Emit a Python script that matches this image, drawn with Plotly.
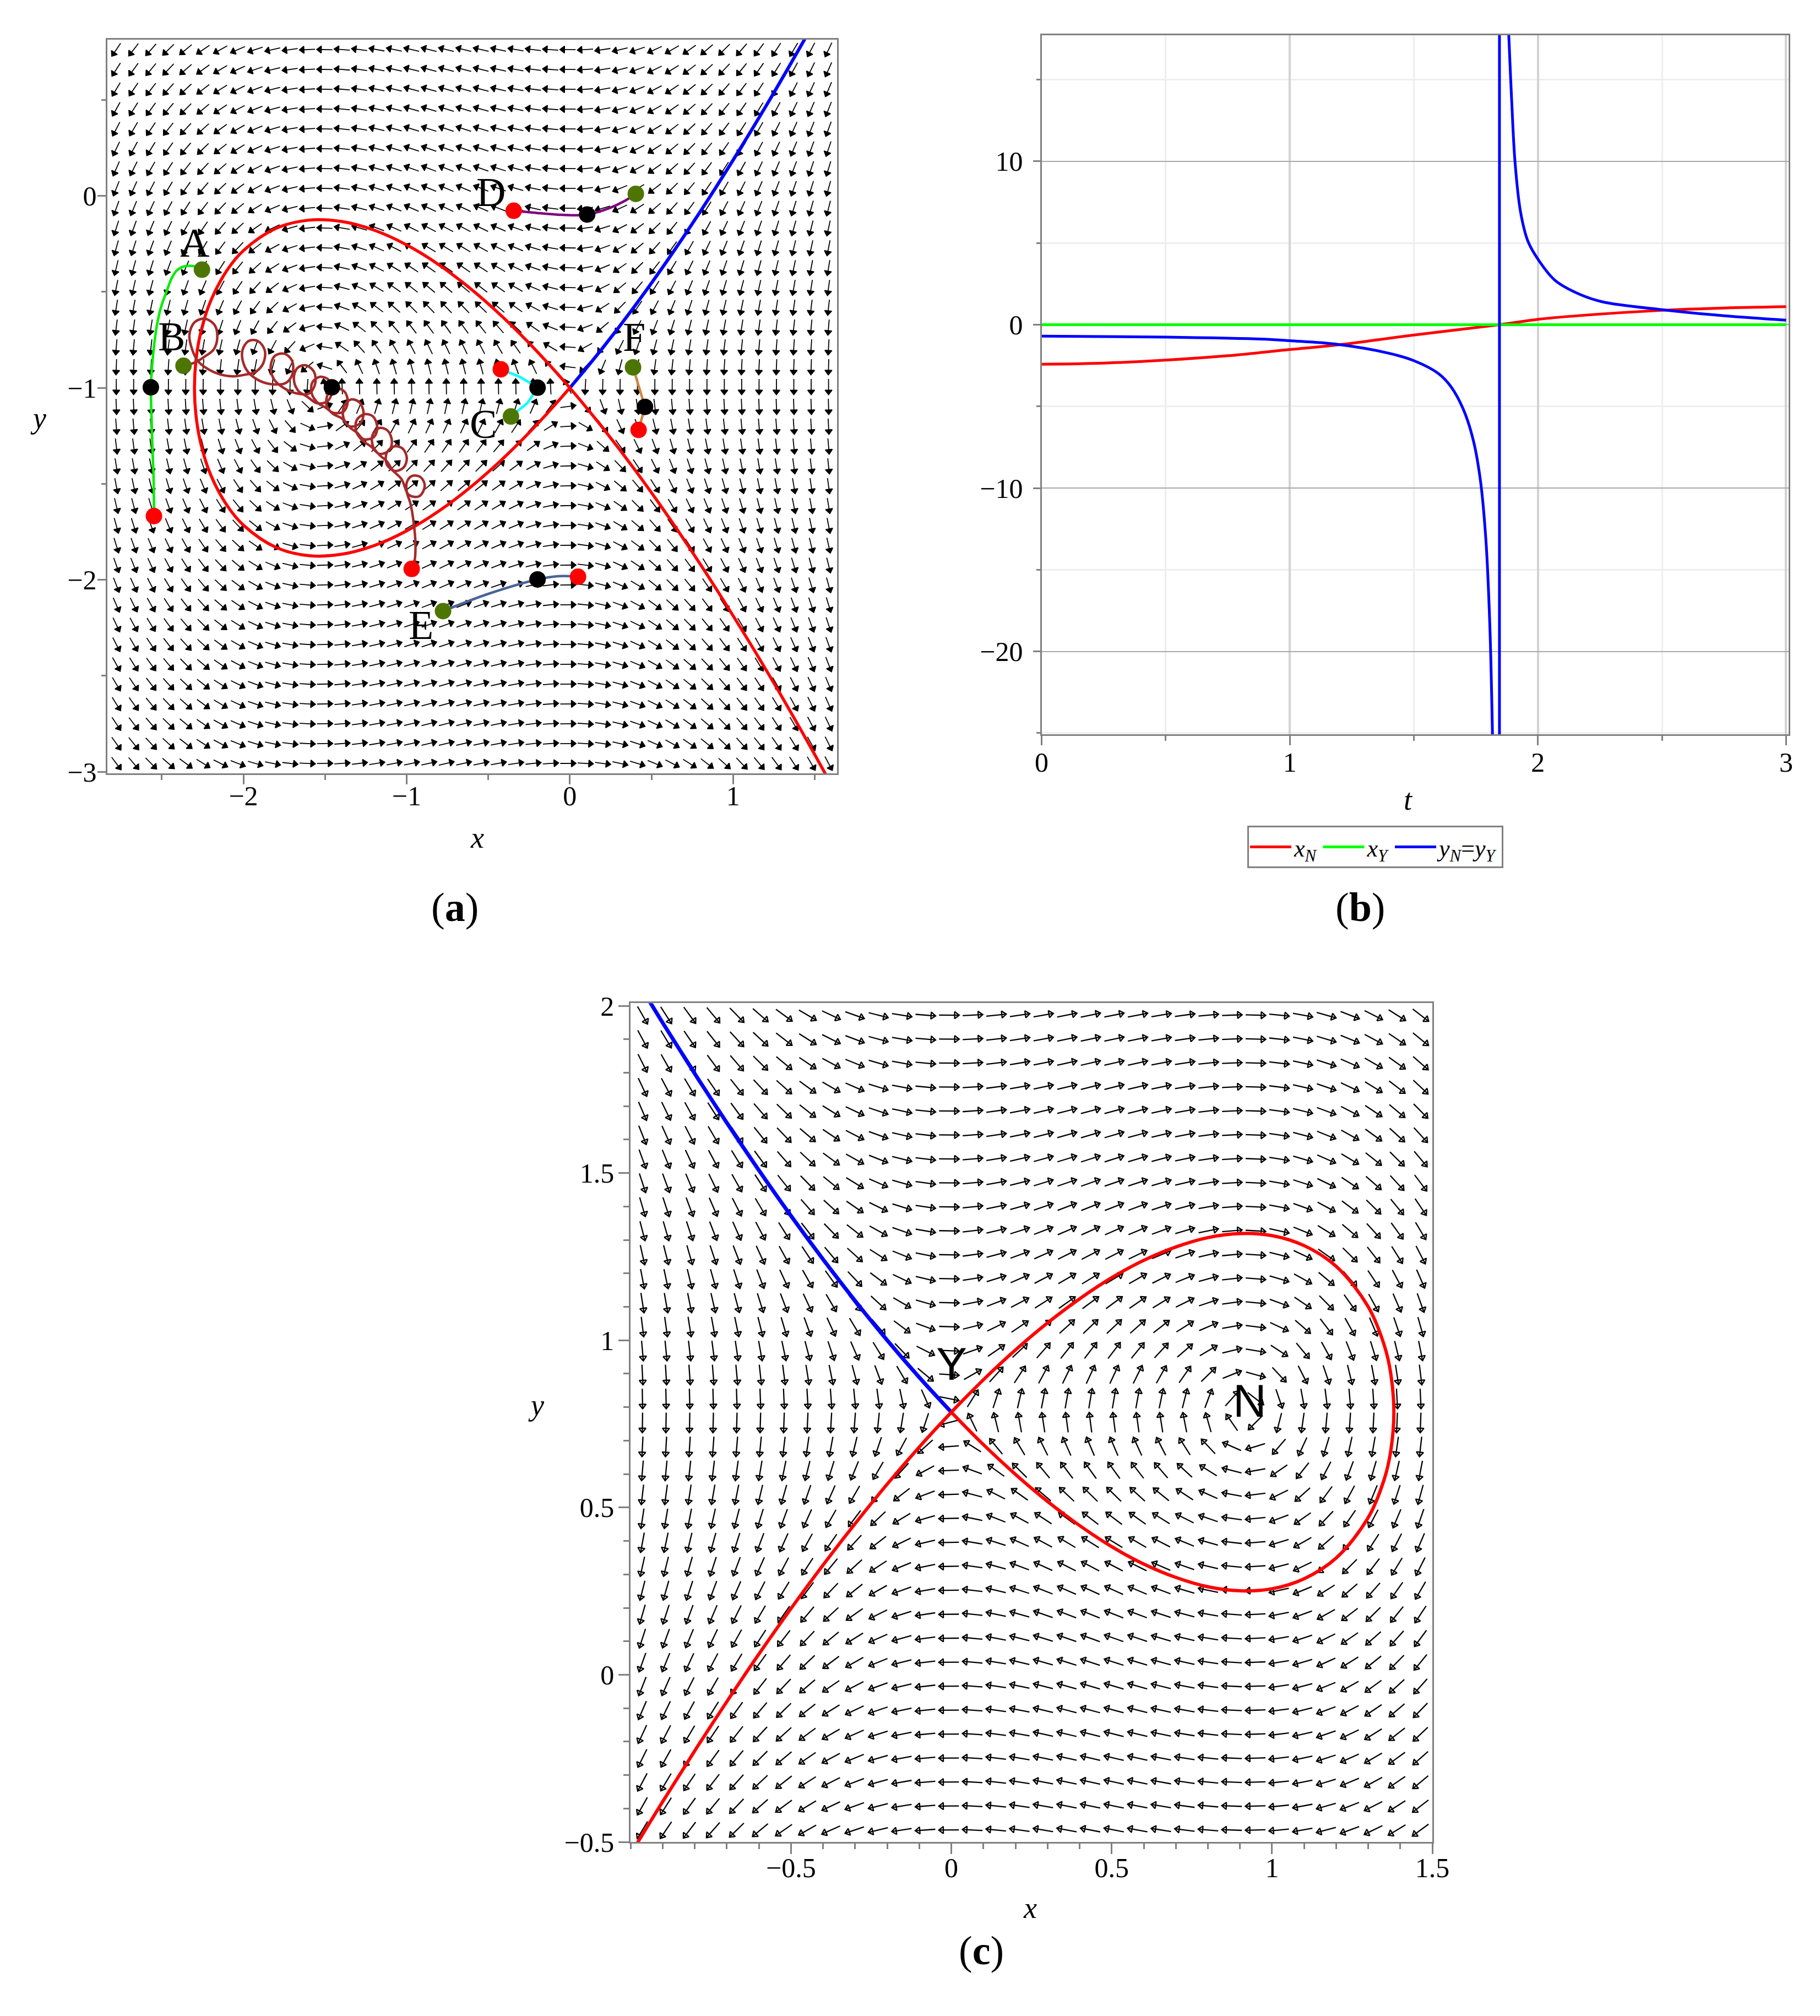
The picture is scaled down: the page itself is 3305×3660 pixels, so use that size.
import numpy as np
import plotly.graph_objects as go

W, H = 3305, 3660
SERIF = "Liberation Serif"
SANS = "Liberation Sans"
GREY = "#808080"
OLIVE = "#4d7600"

# ---------------- panel (a): phase plane ----------------
a_xrange = [-2.832, 1.638]
a_yrange = [-3.008, 0.814]
a_dom_x = [0.0567, 0.4576]
a_dom_y = [0.6186, 0.9825]

# direction field  x' = -(y - a_saddle_y),  y' = -a_k * x * (x - a_center_x)
a_saddle_y = -1.0
a_center_x = -1.533
a_k = 0.64
a_grid = (42, 37)

a_red_x = [1.6, 1.4, 1.2, 1.0, 0.8, 0.6, 0.4, 0.2, 0.0,
           -0.2, -0.4, -0.6, -0.8, -1.0, -1.2, -1.4, -1.6, -1.8, -2.0, -2.1, -2.2, -2.26, -2.29, -2.30,
           -2.29, -2.26, -2.2, -2.1, -2.0, -1.8, -1.6, -1.4, -1.2, -1.0, -0.8, -0.6, -0.4, -0.2, 0.0]
a_red_y = [-3.064, -2.759, -2.466, -2.187, -1.920, -1.667, -1.429, -1.207, -1.0,
           -0.811, -0.640, -0.489, -0.360, -0.255, -0.178, -0.133, -0.126, -0.169, -0.285, -0.387, -0.546,
           -0.706, -0.852, -1.0,
           -1.148, -1.294, -1.454, -1.613, -1.715, -1.831, -1.874, -1.867, -1.822, -1.745, -1.640, -1.511,
           -1.360, -1.189, -1.0]
a_blue_x = [0.0, 0.2, 0.4, 0.6, 0.8, 1.0, 1.2, 1.4, 1.5]
a_blue_y = [-1.0, -0.793, -0.571, -0.333, -0.080, 0.187, 0.466, 0.759, 0.910]

traj_A_x = [-2.254, -2.31, -2.367, -2.41, -2.44, -2.473, -2.505, -2.531, -2.550, -2.563, -2.567,
            -2.563, -2.557, -2.550, -2.548]
traj_A_y = [-0.384, -0.365, -0.368, -0.39, -0.43, -0.503, -0.580, -0.679, -0.800, -0.931, -0.997,
            -1.151, -1.316, -1.481, -1.668]
traj_B_x = [-2.367, -2.318, -2.279, -2.234, -2.182, -2.160, -2.176, -2.234, -2.298, -2.331, -2.314, -2.279,
            -2.234, -2.156, -2.066, -1.988, -1.923, -1.878, -1.869, -1.911, -1.969, -2.006, -1.998, -1.962,
            -1.898, -1.827, -1.742, -1.701, -1.701, -1.749, -1.807, -1.833, -1.814, -1.768,
            -1.691, -1.600, -1.561, -1.568, -1.620, -1.671, -1.691, -1.665, -1.607,
            -1.549, -1.484, -1.458, -1.477, -1.529, -1.577, -1.581, -1.542, -1.497,
            -1.452, -1.387, -1.361, -1.381, -1.432, -1.481, -1.490, -1.452, -1.400,
            -1.348, -1.284, -1.264, -1.290, -1.342, -1.384, -1.387, -1.348, -1.303,
            -1.264, -1.200, -1.180, -1.206, -1.258, -1.306, -1.309, -1.271, -1.219,
            -1.167, -1.109, -1.090, -1.116, -1.167, -1.209, -1.206, -1.167, -1.122,
            -1.077, -1.019, -0.999, -1.025, -1.077, -1.122, -1.122, -1.077, -1.031,
            -0.986, -0.922, -0.889, -0.915, -0.967, -0.999, -0.999, -0.977, -0.957, -0.946, -0.951, -0.969]
traj_B_y = [-0.885, -0.874, -0.860, -0.835, -0.800, -0.739, -0.673, -0.640, -0.657, -0.723, -0.800, -0.860,
            -0.893, -0.926, -0.940, -0.931, -0.915, -0.871, -0.805, -0.756, -0.756, -0.805, -0.876, -0.926,
            -0.964, -0.981, -0.975, -0.931, -0.860, -0.822, -0.833, -0.887, -0.953, -0.992,
            -1.025, -1.030, -0.981, -0.915, -0.882, -0.898, -0.953, -1.014, -1.047,
            -1.080, -1.069, -1.019, -0.959, -0.942, -0.970, -1.030, -1.080, -1.102,
            -1.129, -1.124, -1.074, -1.019, -1.003, -1.030, -1.091, -1.135, -1.157,
            -1.201, -1.184, -1.129, -1.074, -1.061, -1.096, -1.157, -1.206, -1.234,
            -1.267, -1.256, -1.206, -1.149, -1.137, -1.168, -1.228, -1.274, -1.305,
            -1.344, -1.327, -1.278, -1.223, -1.209, -1.245, -1.305, -1.349, -1.382,
            -1.432, -1.415, -1.366, -1.316, -1.305, -1.338, -1.399, -1.437, -1.476,
            -1.558, -1.564, -1.509, -1.465, -1.459, -1.492, -1.542, -1.602, -1.701, -1.811, -1.899, -1.943]
traj_C_x = [-0.361, -0.26, -0.198, -0.305, -0.423]
traj_C_y = [-1.149, -1.079, -0.999, -0.943, -0.903]
traj_D_x = [0.404, 0.336, 0.246, 0.106, -0.01, -0.159, -0.344]
traj_D_y = [0.011, -0.026, -0.062, -0.097, -0.100, -0.092, -0.077]
traj_E_x = [-0.777, -0.496, -0.198, -0.069, 0.050]
traj_E_y = [-2.163, -2.072, -1.998, -1.981, -1.984]
traj_F_x = [0.387, 0.426, 0.460, 0.421]
traj_F_y = [-0.893, -1.000, -1.099, -1.219]

olive_x = [-2.254, -2.367, -0.361, 0.404, -0.777, 0.387]
olive_y = [-0.384, -0.885, -1.149, 0.011, -2.163, -0.893]
black_x = [-2.567, -1.458, -0.198, 0.106, -0.198, 0.460]
black_y = [-0.997, -0.997, -0.999, -0.097, -1.998, -1.099]
red_x = [-2.548, -0.969, -0.423, -0.344, 0.050, 0.421]
red_y = [-1.668, -1.943, -0.903, -0.077, -1.984, -1.219]

label_text = ["A", "B", "C", "D", "E", "F"]
label_x = [-2.30, -2.44, -0.53, -0.485, -0.912, 0.392]
label_y = [-0.245, -0.733, -1.19, 0.019, -2.235, -0.736]

# ---------------- panel (b): time series ----------------
b_xrange = [0, 3.01]
b_yrange = [-25.07, 17.72]
b_dom_x = [0.5699, 0.9803]
b_dom_y = [0.6380, 0.9847]

b_t_red = [0, 0.25, 0.5, 0.75, 1.0, 1.19, 1.5, 1.845, 2.0, 2.17, 2.5, 2.75, 3.0]
b_xN = [-2.42, -2.35, -2.17, -1.9, -1.52, -1.24, -0.63, 0.0, 0.33, 0.56, 0.88, 1.02, 1.1]
b_t_green = [0, 3.0]
b_xY = [0, 0]
b_t_blue_left = [0, 0.5, 0.92, 1.0, 1.19, 1.4, 1.5, 1.6, 1.65, 1.70, 1.74, 1.768, 1.79,
                 1.806, 1.817, 1.822]
b_y_blue_left = [-0.70, -0.76, -0.90, -0.98, -1.20, -1.75, -2.2, -3.0, -3.8, -5.2, -7.1, -9.5,
                 -13.1, -18.3, -25.2, -30.0]
b_t_jump = [1.845, 1.845]
b_y_jump = [-28.0, 20.0]
b_t_blue_right = [1.878, 1.8826, 1.894, 1.908, 1.93, 1.96, 2.005, 2.07, 2.168, 2.26, 2.5, 2.75, 3.0]
b_y_blue_right = [19.5, 17.7, 13.8, 9.9, 6.9, 5.1, 3.9, 2.7, 1.86, 1.4, 0.92, 0.55, 0.28]

# ---------------- panel (c): phase plane ----------------
c_xrange = [-1.0, 1.5]
c_yrange = [-0.5, 2.008]
c_dom_x = [0.3441, 0.7846]
c_dom_y = [0.0885, 0.5046]

# direction field  x' = y - c_saddle_y,  y' = -c_k * x * (x - c_center_x)
c_saddle_y = 0.785
c_center_x = 0.92
c_k = 1.1
c_grid = (34, 35)

c_blue_x = [-1.0, -0.9, -0.8, -0.7, -0.6, -0.5, -0.4, -0.3, -0.2, -0.1, 0.0]
c_blue_y = [2.106, 1.949, 1.797, 1.650, 1.508, 1.372, 1.242, 1.118, 1.000, 0.889, 0.785]
c_red_x = [-1.0, -0.9, -0.8, -0.7, -0.6, -0.5, -0.4, -0.3, -0.2, -0.1, 0.0,
           0.1, 0.2, 0.3, 0.4, 0.5, 0.6, 0.7, 0.8, 0.9, 1.0, 1.1, 1.2, 1.3, 1.35, 1.37, 1.38,
           1.37, 1.35, 1.3, 1.2, 1.1, 1.0, 0.9, 0.8, 0.7, 0.6, 0.5, 0.4, 0.3, 0.2, 0.1, 0.0]
c_red_y = [-0.536, -0.379, -0.227, -0.080, 0.062, 0.198, 0.328, 0.452, 0.570, 0.681, 0.785,
           0.882, 0.971, 1.052, 1.124, 1.187, 1.239, 1.279, 1.307, 1.319, 1.313, 1.283, 1.221, 1.100,
           0.985, 0.902, 0.785,
           0.668, 0.585, 0.470, 0.349, 0.287, 0.257, 0.251, 0.263, 0.291, 0.331, 0.383, 0.446, 0.518,
           0.599, 0.688, 0.785]


def field_a(x, y):
    return -(y - a_saddle_y), -a_k * x * (x - a_center_x)


def field_c(x, y):
    return y - c_saddle_y, -c_k * x * (x - c_center_x)


def add_field(fig, field, xr, yr, dom_x, dom_y, grid, length, head, symbol, xa, ya, lw):
    kx = (dom_x[1] - dom_x[0]) * W / (xr[1] - xr[0])
    ky = (dom_y[1] - dom_y[0]) * H / (yr[1] - yr[0])
    nx, ny = grid
    gx = xr[0] + (np.arange(nx) + 0.5) * (xr[1] - xr[0]) / nx
    gy = yr[0] + (np.arange(ny) + 0.5) * (yr[1] - yr[0]) / ny
    X, Y = np.meshgrid(gx, gy)
    U, V = field(X, Y)
    pu, pv = U * kx, V * ky
    nrm = np.hypot(pu, pv)
    nrm[nrm == 0] = 1.0
    ux, uy = (pu / nrm).ravel(), (pv / nrm).ravel()
    X, Y = X.ravel(), Y.ravel()
    hx, hy = 0.5 * length * ux / kx, 0.5 * length * uy / ky
    sx, sy = [], []
    for x0, y0, a, b in zip(X, Y, hx, hy):
        sx += [float(x0 - a), float(x0 + a), None]
        sy += [float(y0 - b), float(y0 + b), None]
    tipx = X + hx - 0.45 * head * ux / kx
    tipy = Y + hy - 0.45 * head * uy / ky
    ang = np.degrees(np.arctan2(ux, uy))
    fig.add_trace(go.Scatter(x=sx, y=sy, mode="lines", line=dict(color="black", width=lw),
                             hoverinfo="skip", showlegend=False, xaxis=xa, yaxis=ya))
    fig.add_trace(go.Scatter(x=tipx.tolist(), y=tipy.tolist(), mode="markers",
                             marker=dict(symbol=symbol, size=head, color="black", angle=ang.tolist(),
                                         line=dict(color="black", width=lw)),
                             hoverinfo="skip", showlegend=False, xaxis=xa, yaxis=ya))


fig = go.Figure()

# (a)
add_field(fig, field_a, a_xrange, a_yrange, a_dom_x, a_dom_y, a_grid, 28, 11, "triangle-up", "x", "y", 1.8)
fig.add_trace(go.Scatter(x=a_blue_x, y=a_blue_y, mode="lines", line=dict(color="#0000ff", width=6, shape="spline"),
                         showlegend=False, xaxis="x", yaxis="y"))
fig.add_trace(go.Scatter(x=a_red_x, y=a_red_y, mode="lines", line=dict(color="#ff0000", width=5.5, shape="spline"),
                         showlegend=False, xaxis="x", yaxis="y"))
for tx, ty, col, shp in [(traj_A_x, traj_A_y, "#00ee00", "spline"),
                         (traj_B_x, traj_B_y, "#a52a2a", "spline"),
                         (traj_C_x, traj_C_y, "#00ffff", "linear"),
                         (traj_D_x, traj_D_y, "#800080", "spline"),
                         (traj_E_x, traj_E_y, "#4a6496", "spline"),
                         (traj_F_x, traj_F_y, "#cd853f", "linear")]:
    fig.add_trace(go.Scatter(x=tx, y=ty, mode="lines", line=dict(color=col, width=4.5, shape=shp),
                             showlegend=False, xaxis="x", yaxis="y"))
for px, py, col in [(olive_x, olive_y, OLIVE), (black_x, black_y, "black"), (red_x, red_y, "#ff0000")]:
    fig.add_trace(go.Scatter(x=px, y=py, mode="markers", marker=dict(size=30, color=col),
                             showlegend=False, xaxis="x", yaxis="y"))

# (b)
fig.add_trace(go.Scatter(x=b_t_red, y=b_xN, mode="lines", line=dict(color="#ff0000", width=5, shape="spline"),
                         name="<i>x</i><sub><i>N</i></sub>", xaxis="x2", yaxis="y2"))
fig.add_trace(go.Scatter(x=b_t_green, y=b_xY, mode="lines", line=dict(color="#00ff00", width=5),
                         name="<i>x</i><sub><i>Y</i></sub>", xaxis="x2", yaxis="y2"))
fig.add_trace(go.Scatter(x=b_t_blue_left, y=b_y_blue_left, mode="lines",
                         line=dict(color="#0000ff", width=5, shape="spline"), legendgroup="blue",
                         name="<i>y</i><sub><i>N</i></sub>=<i>y</i><sub><i>Y</i></sub>", xaxis="x2", yaxis="y2"))
fig.add_trace(go.Scatter(x=b_t_jump, y=b_y_jump, mode="lines", line=dict(color="#0000ff", width=5),
                         legendgroup="blue", showlegend=False, xaxis="x2", yaxis="y2"))
fig.add_trace(go.Scatter(x=b_t_blue_right, y=b_y_blue_right, mode="lines",
                         line=dict(color="#0000ff", width=5, shape="spline"),
                         legendgroup="blue", showlegend=False, xaxis="x2", yaxis="y2"))

# (c)
add_field(fig, field_c, c_xrange, c_yrange, c_dom_x, c_dom_y, c_grid, 36, 11, "triangle-up-open", "x3", "y3", 2.3)
fig.add_trace(go.Scatter(x=c_blue_x, y=c_blue_y, mode="lines", line=dict(color="#0000ff", width=7, shape="spline"),
                         showlegend=False, xaxis="x3", yaxis="y3"))
fig.add_trace(go.Scatter(x=c_red_x, y=c_red_y, mode="lines", line=dict(color="#ff0000", width=6, shape="spline"),
                         showlegend=False, xaxis="x3", yaxis="y3"))


def ax(dom, rng, dtick, minor_dtick, ticklen, standoff, **kw):
    d = dict(domain=dom, range=rng, showline=True, linecolor=GREY, linewidth=3, mirror=True,
             ticks="outside", tickcolor=GREY, tickwidth=3, ticklen=ticklen, dtick=dtick, tick0=0,
             ticklabelstandoff=standoff, automargin=False,
             tickfont=dict(family=SERIF, size=50, color="black"),
             zeroline=False, showgrid=False,
             minor=dict(ticks="outside", ticklen=int(ticklen * 0.55), tickwidth=3, tickcolor=GREY,
                        dtick=minor_dtick, tick0=0))
    d.update(kw)
    return d


c_minor = [round(-1.0 + 0.1 * i, 2) for i in range(26)]
c_minor_y = [round(-0.5 + 0.1 * i, 2) for i in range(26)]

fig.update_layout(
    width=W, height=H, margin=dict(l=0, r=0, t=0, b=0, autoexpand=False),
    paper_bgcolor="white", plot_bgcolor="white",
    xaxis=ax(a_dom_x, a_xrange, 1, 0.5, 17, -22, anchor="y"),
    yaxis=ax(a_dom_y, a_yrange, 1, 0.5, 15, -8, anchor="x"),
    xaxis2=ax(b_dom_x, b_xrange, 1, 0.5, 17, -12, anchor="y2", showgrid=True, gridcolor="#d2d2d2", gridwidth=4),
    yaxis2=ax(b_dom_y, b_yrange, 10, 5, 13, 8, anchor="x2", showgrid=True, gridcolor="#a8a8a8", gridwidth=2),
    xaxis3=ax(c_dom_x, c_xrange, 0.5, 0.1, 19, -18, anchor="y3", tickmode="array",
              tickvals=[-0.5, 0, 0.5, 1, 1.5], ticktext=["\u22120.5", "0", "0.5", "1", "1.5"]),
    yaxis3=ax(c_dom_y, c_yrange, 0.5, 0.1, 19, -2, anchor="x3", tickmode="array",
              tickvals=[-0.5, 0, 0.5, 1, 1.5, 2], ticktext=["\u22120.5", "0", "0.5", "1", "1.5", "2"]),
    legend=dict(x=0.6829, y=0.5925, xanchor="left", yanchor="top", orientation="h",
                bordercolor=GREY, borderwidth=3, bgcolor="white", itemwidth=75,
                font=dict(family=SERIF, size=44, color="black")),
)
fig.layout.xaxis2.minor.update(showgrid=True, gridcolor="#eeeeee", gridwidth=3)
fig.layout.yaxis2.minor.update(showgrid=True, gridcolor="#eeeeee", gridwidth=3)
fig.layout.xaxis3.minor.update(tickmode="array", tickvals=c_minor)
fig.layout.yaxis3.minor.update(tickmode="array", tickvals=c_minor_y)

ann = []
for t, x, y in zip(label_text, label_x, label_y):
    ann.append(dict(x=x, y=y, xref="x", yref="y", text=t, showarrow=False,
                    font=dict(family=SERIF, size=74, color="black")))
ann.append(dict(x=0.0, y=0.93, xref="x3", yref="y3", text="Y", showarrow=False,
                font=dict(family=SANS, size=84, color="black")))
ann.append(dict(x=0.93, y=0.82, xref="x3", yref="y3", text="N", showarrow=False,
                font=dict(family=SANS, size=84, color="black")))
for txt, x, y in [("<i>x</i>", 0.2555, 0.5865), ("<i>y</i>", 0.0135, 0.8035),
                  ("<i>t</i>", 0.7746, 0.6055),
                  ("<i>x</i>", 0.5635, 0.0470), ("<i>y</i>", 0.2870, 0.2965)]:
    ann.append(dict(x=x, y=y, xref="paper", yref="paper", text=txt, showarrow=False,
                    font=dict(family=SERIF, size=54, color="black")))
for txt, x, y in [("(<b>a</b>)", 0.2338, 0.5523), ("(<b>b</b>)", 0.7592, 0.5523), ("(<b>c</b>)", 0.5367, 0.0230)]:
    ann.append(dict(x=x, y=y, xref="paper", yref="paper", text=txt, showarrow=False,
                    font=dict(family=SERIF, size=74, color="black")))
fig.update_layout(annotations=ann)

fig.write_html("out.html")
